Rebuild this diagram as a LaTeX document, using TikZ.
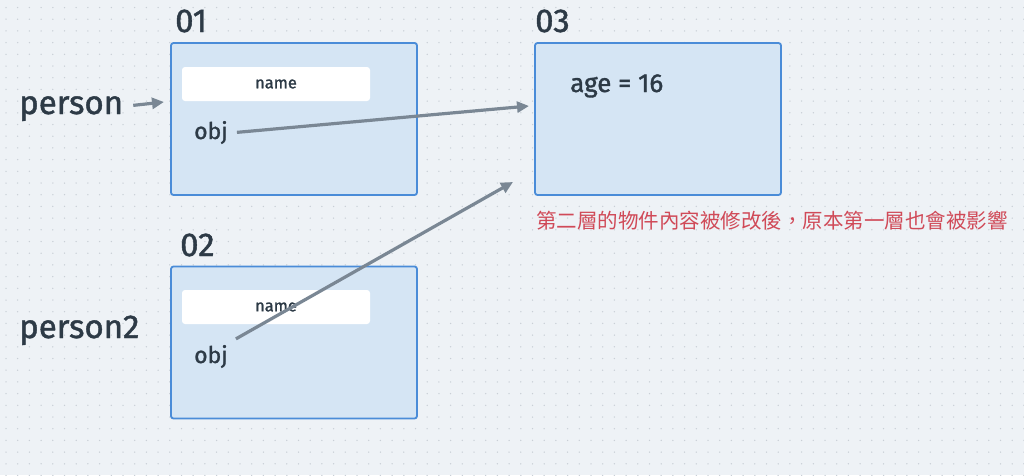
\documentclass[tikz,border=0pt]{standalone}
\usepackage{fontspec}
\setmainfont{Fira Sans}[RawFeature={embolden=1.3}]
\newfontfamily\cjk{Noto Sans CJK TC}
\usetikzlibrary{arrows.meta,positioning}
\definecolor{bgcol}{HTML}{EEF2F6}
\definecolor{dotcol}{HTML}{C9CFD6}
\definecolor{boxline}{HTML}{4A8CD8}
\definecolor{boxfill}{HTML}{D5E5F4}
\definecolor{inkcol}{HTML}{2D3A46}
\definecolor{ptrcol}{HTML}{7A8794}
\definecolor{notecol}{HTML}{D04A58}

\begin{document}
\begin{tikzpicture}[x=1pt, y=-1pt,
    >={Triangle[length=12pt,width=11pt]},
    membox/.style={draw=boxline, fill=boxfill, line width=1.8pt, rounded corners=2.5pt,
        minimum width=246pt, minimum height=152pt, inner sep=0pt},
    namebox/.style={fill=white, rounded corners=3pt, minimum width=188pt, minimum height=34pt,
        inner sep=0pt, text=inkcol, font=\fontsize{16.5}{20}\selectfont},
    addr/.style={anchor=base west, inner sep=0pt, text=inkcol, font=\fontsize{33}{40}\selectfont},
    varname/.style={anchor=base west, inner sep=0pt, text=inkcol, font=\fontsize{33}{40}\selectfont},
    field/.style={anchor=base west, inner sep=0pt, text=inkcol, font=\fontsize{23}{28}\selectfont},
    ptr/.style={->, draw=ptrcol, line width=3.2pt}]
    % 背景及网格点
    \fill[bgcol] (0,0) rectangle (1024,475);
    \useasboundingbox (0,0) rectangle (1024,475);
    \foreach \i in {0,...,87} {
        \foreach \j in {0,...,40} {
            \fill[dotcol] (6+11.7*\i, 7.5+11.7*\j) circle (0.75pt);
        }
    }

    % 三个物件框
    \node[membox] (box01) at (294,119) {};
    \node[membox] (box03) at (658,119) {};
    \node[membox] (box02) at (294,342.5) {};

    % 地址标签
    \node[addr] (lab01) at (175,32) {01};
    \node[addr] (lab03) at (535,32) {03};
    \node[addr] (lab02) at (180,256) {02};

    % 变量名
    \node[varname] (person) at (19,114) {person};
    \node[varname] (person2) at (19,338) {person2};

    % 框内内容
    \node[namebox] (name01) at (276,84) {name};
    \node[namebox] (name02) at (276,307) {name};
    \node[field] (obj01) at (194,139) {obj};
    \node[field] (obj02) at (194,363) {obj};
    \node[field, font=\fontsize{26}{31}\selectfont] (age) at (570,92) {age = 16};

    % 说明文字
    \node[anchor=base west, inner sep=0pt, text=notecol, font=\cjk\fontsize{20.5}{25}\selectfont]
        (note) at (536,228) {第二層的物件內容被修改後，原本第一層也會被影響};

    % 指向箭头
    \coordinate (tip01) at (164,102);
    \coordinate (tip03a) at (529,106);
    \coordinate (tip03b) at (513,182);
    \draw[ptr] ([xshift=10pt,yshift=6pt]person.mid east) -- (tip01);
    \draw[ptr] ([xshift=9pt,yshift=4pt]obj01.mid east) -- (tip03a);
    \draw[ptr] ([xshift=8pt,yshift=6pt]obj02.north east) -- (tip03b);
\end{tikzpicture}
\end{document}
